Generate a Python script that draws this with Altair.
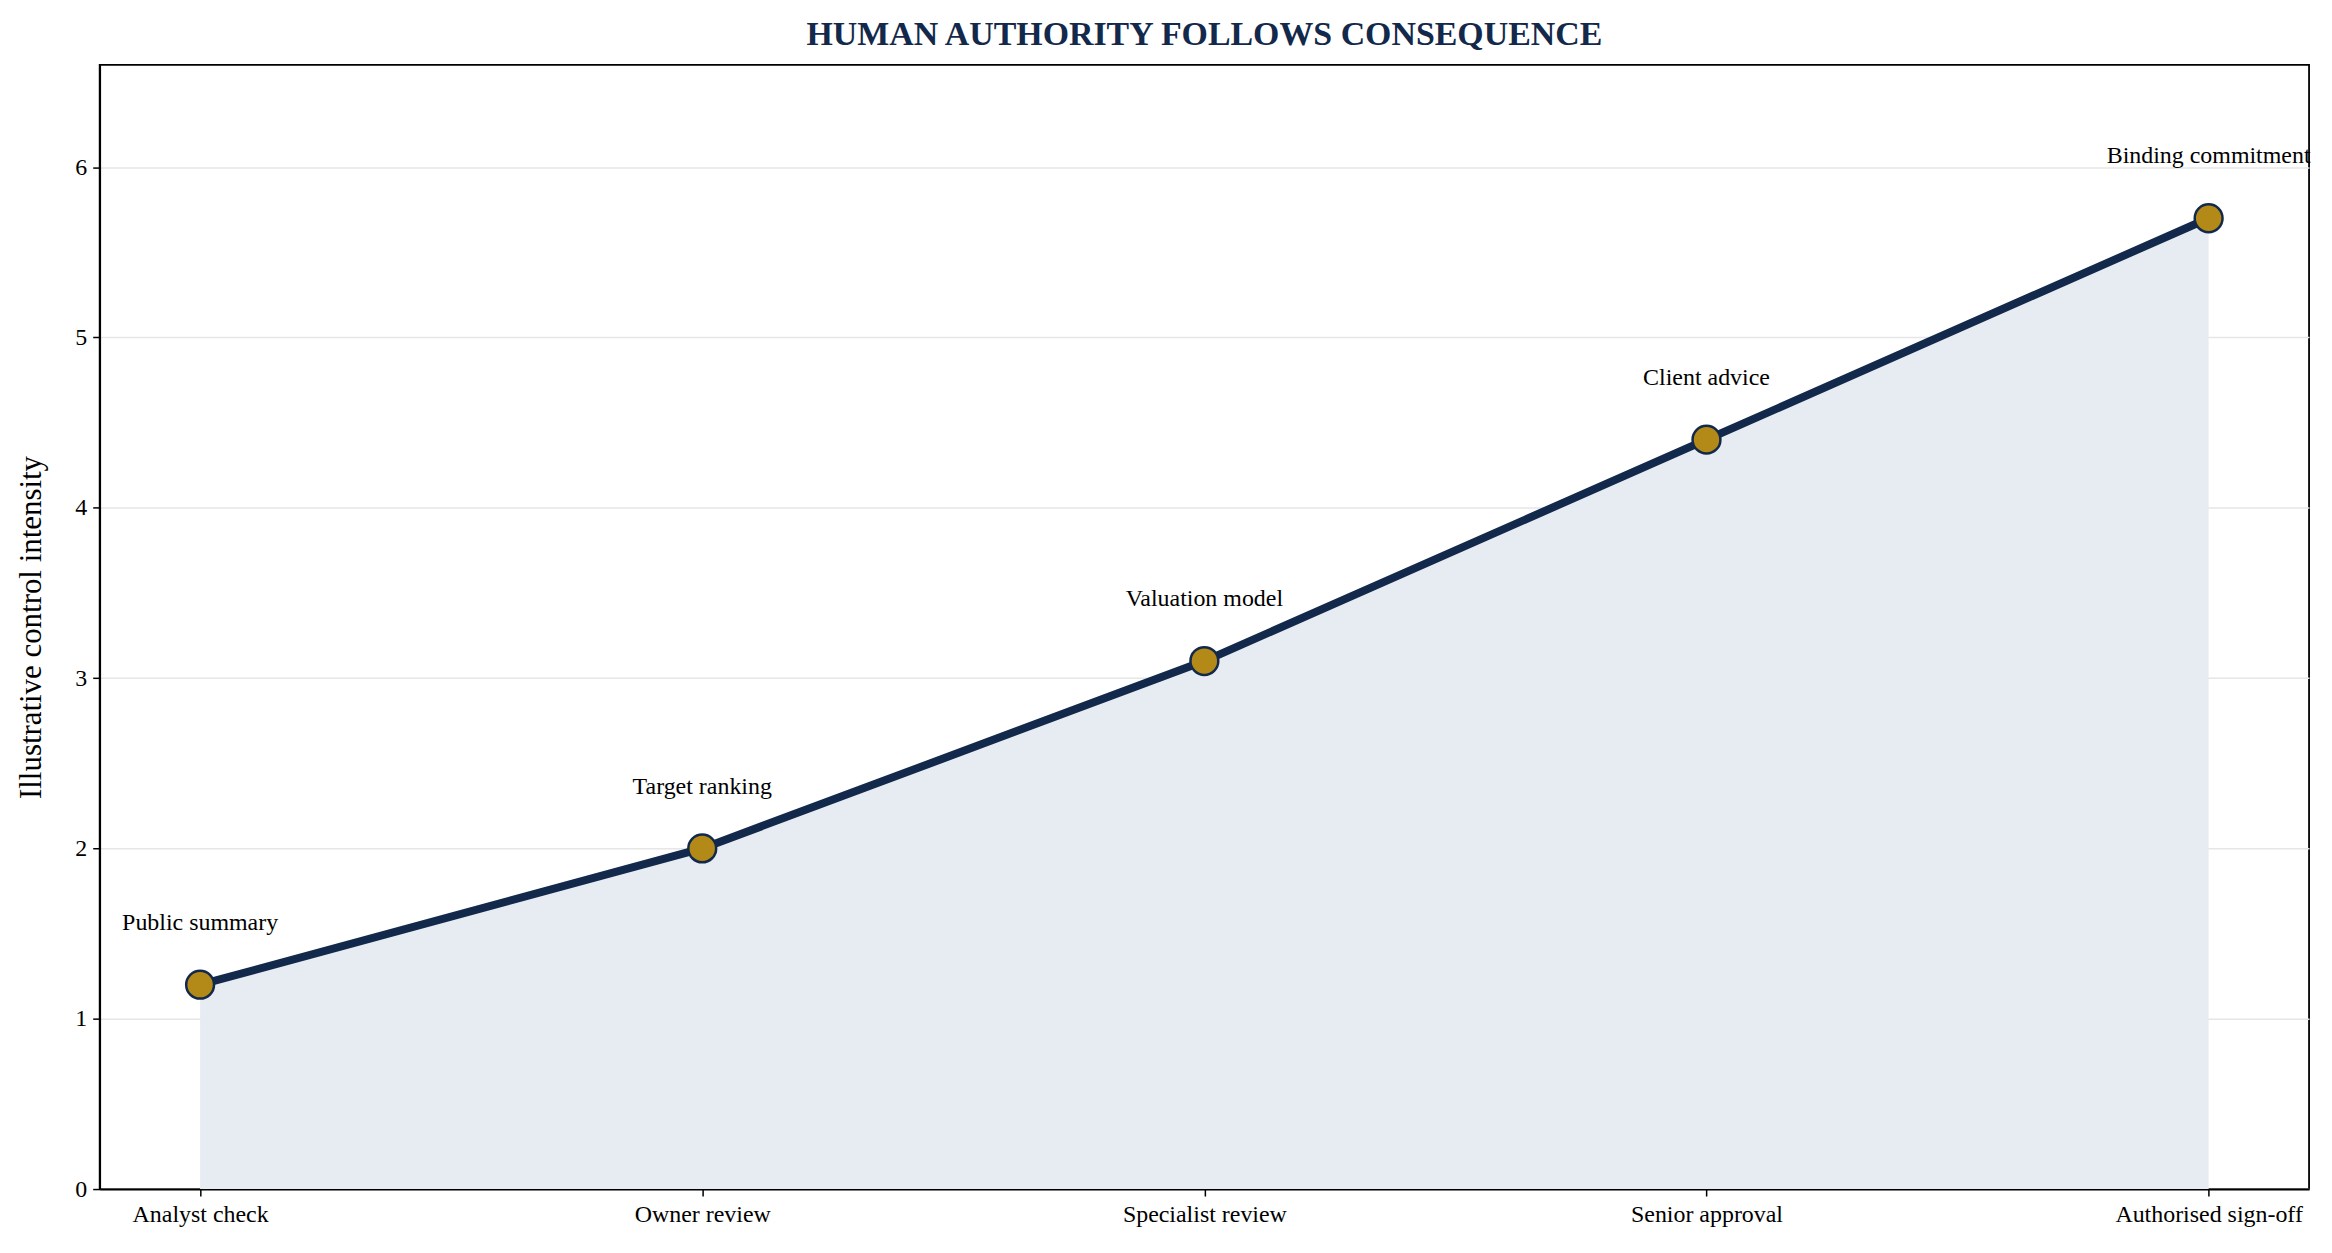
import altair as alt
import pandas as pd

stages = ["Analyst check", "Owner review", "Specialist review", "Senior approval", "Authorised sign-off"]
positions = [0, 1, 2, 3, 4]
intensity = [1.2, 2.0, 3.1, 4.4, 5.7]
annotations = ["Public summary", "Target ranking", "Valuation model", "Client advice", "Binding commitment"]
y_ticks = [0, 1, 2, 3, 4, 5, 6]

df = pd.DataFrame({"pos": positions, "stage": stages, "value": intensity, "label": annotations})

FONT = "Liberation Serif"
NAVY = "#13294b"
GOLD = "#b38a17"
FILL = "#e7ecf3"

label_js = "[" + ",".join("'" + s + "'" for s in stages) + "][datum.value]"

x_enc = alt.X("pos:Q",
              scale=alt.Scale(domain=[-0.2, 4.2], nice=False, zero=False),
              axis=alt.Axis(values=positions, labelExpr=label_js, title=None, grid=False,
                            labelFont=FONT, labelFontSize=24, labelColor="black",
                            labelLimit=0, labelOverlap=False,
                            tickColor="black", tickSize=7, tickWidth=1.5,
                            domainColor="black", domainWidth=1.8, labelPadding=7))
y_enc = alt.Y("value:Q",
              scale=alt.Scale(domain=[0, 6.6], nice=False),
              axis=alt.Axis(values=y_ticks, format="d", title="Illustrative control intensity",
                            titleFont=FONT, titleFontSize=31, titleFontWeight="normal",
                            titleColor="black", titlePadding=27,
                            labelFont=FONT, labelFontSize=24, labelColor="black",
                            tickColor="black", tickSize=7, tickWidth=1.5,
                            domainColor="black", domainWidth=1.8, labelPadding=6,
                            grid=True, gridColor="#e6e6e6", gridWidth=1.5))

base = alt.Chart(df)

area = base.mark_area(color=FILL, opacity=1).encode(x=x_enc, y=y_enc)
line = base.mark_line(color=NAVY, strokeWidth=8).encode(x="pos:Q", y="value:Q")
points = base.mark_point(filled=True, fill=GOLD, stroke=NAVY, strokeWidth=2.5,
                         size=780, opacity=1, shape="circle").encode(x="pos:Q", y="value:Q")
texts = base.mark_text(font=FONT, fontSize=24, color="black", dy=-62,
                       align="center", baseline="middle").encode(x="pos:Q", y="value:Q", text="label:N")

chart = alt.layer(area, line, points, texts).properties(
    width=2217, height=1128,
    background="white",
    title=alt.TitleParams("HUMAN AUTHORITY FOLLOWS CONSEQUENCE", font=FONT, fontSize=34,
                          fontWeight="bold", color=NAVY, anchor="middle", offset=13),
    autosize=alt.AutoSizeParams(type="none"),
    padding={"left": 92, "top": 55, "right": 15, "bottom": 54},
).configure_view(stroke="black", strokeWidth=1.8)

chart.save("out.html", embed_options={"renderer": "svg", "actions": False})
